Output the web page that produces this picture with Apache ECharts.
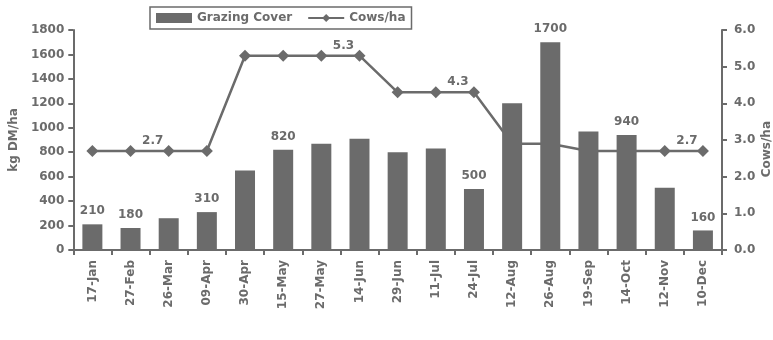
<!DOCTYPE html>
<html>
<head>
<meta charset="utf-8">
<script src="https://cdn.jsdelivr.net/npm/echarts@6/dist/echarts.min.js"></script>
<style>
  html, body { margin: 0; padding: 0; background: #ffffff; }
  #chart { width: 773px; height: 340px; }
</style>
</head>
<body>
<div id="chart"></div>
<script>
// Sampling dates
const categories = ['17-Jan', '27-Feb', '26-Mar', '09-Apr', '30-Apr', '15-May', '27-May', '14-Jun',
  '29-Jun', '11-Jul', '24-Jul', '12-Aug', '26-Aug', '19-Sep', '14-Oct', '12-Nov', '10-Dec'];

// Grazing cover (kg DM/ha)
const coverValues = [210, 180, 260, 310, 650, 820, 870, 910, 800, 830, 500, 1200, 1700, 970, 940, 510, 160];

// Stocking rate (cows/ha)
const cowsValues = [2.7, 2.7, 2.7, 2.7, 5.3, 5.3, 5.3, 5.3, 4.3, 4.3, 4.3, 2.9, 2.9, 2.7, 2.7, 2.7, 2.7];

// Points that carry a value label
const coverLabelled = [0, 1, 3, 5, 10, 12, 14, 16];
const cowsLabelled = [2, 7, 10, 16];

const grey = '#6b6b6b';
const font = 'DejaVu Sans, Liberation Sans, sans-serif';
const txt = { fontFamily: font, fontSize: 12, fontWeight: 'bold', color: grey };

const chart = echarts.init(document.getElementById('chart'), null, { renderer: 'canvas' });

const barData = coverValues.map((v, i) => ({
  value: v,
  label: { show: coverLabelled.includes(i) }
}));
const lineData = cowsValues.map((v, i) => ({
  value: v,
  label: { show: cowsLabelled.includes(i) }
}));

chart.setOption({
  animation: false,
  backgroundColor: '#ffffff',
  textStyle: { fontFamily: font, color: grey },
  grid: { left: 70, right: 51, top: 30, bottom: 90 },
  legend: {
    left: 150,
    top: 7,
    itemGap: 15,
    itemWidth: 36,
    itemHeight: 10,
    padding: [5, 6, 5, 6],
    borderColor: grey,
    borderWidth: 1.5,
    textStyle: Object.assign({}, txt),
    data: [
      { name: 'Grazing Cover', icon: 'rect' },
      { name: 'Cows/ha' }
    ]
  },
  graphic: [
    {
      type: 'text',
      left: 761,
      top: 121,
      rotation: Math.PI / 2,
      originX: 0,
      originY: 0,
      style: Object.assign({ text: 'Cows/ha', fill: grey, textAlign: 'center', textVerticalAlign: 'middle' },
        { font: 'bold 12px ' + font })
    }
  ],
  xAxis: {
    type: 'category',
    data: categories,
    axisLine: { lineStyle: { color: grey, width: 2 } },
    axisTick: { show: true, length: 5, lineStyle: { color: grey, width: 2 } },
    axisLabel: Object.assign({ rotate: 90, interval: 0, margin: 10 }, txt)
  },
  yAxis: [
    {
      type: 'value',
      min: 0,
      max: 1800,
      interval: 200,
      name: 'kg DM/ha',
      nameLocation: 'middle',
      nameGap: 52,
      nameRotate: 90,
      nameTextStyle: Object.assign({}, txt),
      axisLine: { show: true, lineStyle: { color: grey, width: 2 } },
      axisTick: { show: true, length: 5, lineStyle: { color: grey, width: 2 } },
      splitLine: { show: false },
      axisLabel: Object.assign({ margin: 9, formatter: v => String(v) }, txt)
    },
    {
      type: 'value',
      min: 0,
      max: 6,
      interval: 1,
      position: 'right',
      axisLine: { show: true, lineStyle: { color: grey, width: 2 } },
      axisTick: { show: true, length: 5, lineStyle: { color: grey, width: 2 } },
      splitLine: { show: false },
      axisLabel: Object.assign({ margin: 12, formatter: v => v.toFixed(1) }, txt)
    }
  ],
  series: [
    {
      name: 'Cows/ha',
      type: 'line',
      yAxisIndex: 1,
      z: 1,
      data: lineData,
      symbol: 'diamond',
      symbolSize: 12,
      lineStyle: { color: grey, width: 2.5 },
      itemStyle: { color: grey },
      label: Object.assign({
        position: 'top',
        offset: [-16, 3],
        distance: 1,
        formatter: p => p.value.toFixed(1)
      }, txt)
    },
    {
      name: 'Grazing Cover',
      type: 'bar',
      yAxisIndex: 0,
      z: 3,
      data: barData,
      barWidth: 20,
      itemStyle: { color: grey },
      label: Object.assign({ position: 'top', distance: 7 }, txt)
    }
  ]
});
</script>
</body>
</html>
